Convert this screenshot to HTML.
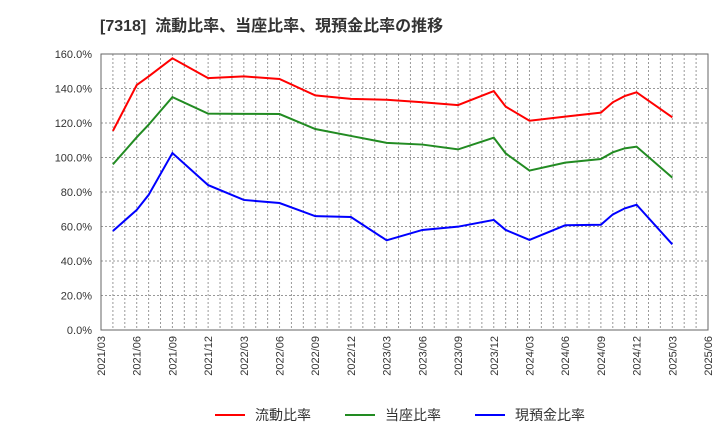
<!DOCTYPE html>
<html><head><meta charset="utf-8"><style>
body{margin:0;background:#fff;font-family:"Liberation Sans","Noto Sans CJK JP",sans-serif;}
</style></head><body>
<svg width="720" height="440" xmlns="http://www.w3.org/2000/svg" font-family="Liberation Sans, Noto Sans CJK JP, sans-serif">
<text x="100" y="31" font-size="16" font-weight="bold" fill="#333" xml:space="preserve">[7318]  流動比率、当座比率、現預金比率の推移</text>
<g id="grid"></g><g id="axes"></g><g id="series"></g>
<g font-size="14" fill="#333">
<line x1="215" y1="415" x2="245" y2="415" stroke="#ff0000" stroke-width="2"/><text x="255" y="420">流動比率</text>
<line x1="345" y1="415" x2="375" y2="415" stroke="#228b22" stroke-width="2"/><text x="385" y="420">当座比率</text>
<line x1="475" y1="415" x2="505" y2="415" stroke="#0000ff" stroke-width="2"/><text x="515" y="420">現預金比率</text>
</g>
</svg>
<script>
const months=[1,3,4,6,9,12,15,18,21,24,27,30,33,34,36,39,42,43,44,45,48];
const current=[115.4,142,147,157.5,146,147,145.5,136,134,133.5,132,130.4,138.5,129.5,121.3,123.7,126,132,135.6,137.8,123.3];
const quick=[96,111.7,119,135,125.4,125.3,125.2,116.5,112.5,108.5,107.5,104.7,111.5,102.4,92.4,97,99.1,103,105.3,106.3,88.3];
const cash=[57.4,69.6,78.3,102.6,84,75.4,73.6,66,65.5,52,58,59.9,63.8,58,52.2,60.7,61,67,70.5,72.6,49.7];
const yTicks=[0,20,40,60,80,100,120,140,160];
const xLabels=["2021/03","2021/06","2021/09","2021/12","2022/03","2022/06","2022/09","2022/12","2023/03","2023/06","2023/09","2023/12","2024/03","2024/06","2024/09","2024/12","2025/03","2025/06"];
const NS="http://www.w3.org/2000/svg";
const L=101,R=708,T=54,B=330;
const x=m=>L+m*(R-L)/51;
const y=v=>B-v*(B-T)/160;
function mk(tag,attrs,parent){const e=document.createElementNS(NS,tag);for(const k in attrs)e.setAttribute(k,attrs[k]);parent.appendChild(e);return e;}
const grid=document.getElementById('grid'),axes=document.getElementById('axes'),ser=document.getElementById('series');
for(let m=0;m<=51;m++){const l=mk('line',{x1:x(m),x2:x(m),y1:T,y2:B,stroke:'#999','stroke-dasharray':'2,2','stroke-width':1},grid);

}
yTicks.forEach(v=>{const l=mk('line',{x1:L,x2:R,y1:y(v),y2:y(v),stroke:'#999','stroke-dasharray':'2,2','stroke-width':1},grid);


const t=mk('text',{x:92,y:y(v)+4,'text-anchor':'end','font-size':11,fill:'#333'},axes);t.textContent=v.toFixed(1)+'%';

});
xLabels.forEach((s,i)=>{const xx=x(i*3);const t=mk('text',{x:0,y:0,'text-anchor':'end','font-size':11,fill:'#333',transform:`translate(${xx+4},${B+6}) rotate(-90)`},axes);t.textContent=s;

});
const fr=mk('rect',{x:L,y:T,width:R-L,height:B-T,fill:'none',stroke:'#666','stroke-width':1},axes);


[[current,'#ff0000','current-ratio-line'],[quick,'#228b22','quick-ratio-line'],[cash,'#0000ff','cash-ratio-line']].forEach(([d,c,n])=>{
const p=mk('polyline',{points:d.map((v,i)=>x(months[i])+','+y(v)).join(' '),fill:'none',stroke:c,'stroke-width':2},ser);

});
</script>
</body></html>
